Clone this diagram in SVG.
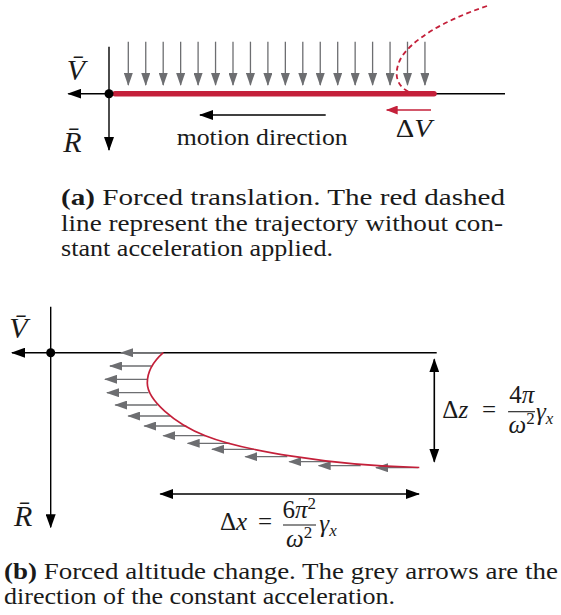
<svg xmlns="http://www.w3.org/2000/svg" width="561" height="615" viewBox="0 0 561 615" font-family="'Liberation Serif', serif">
<style>
text{font-family:"Liberation Serif",serif;fill:#1a1a1a}
.it{font-style:italic}
.b{font-weight:bold}
.ax{stroke:#000;stroke-width:1.4;fill:none}
.gr{stroke:#6d6e71;stroke-width:1.3;fill:none}
.rd{stroke:#c4203a;fill:none}
.dbl{stroke:#000;stroke-width:1.6;fill:none}
</style>
<defs>
<marker id="ab" viewBox="0 0 14 10" refX="13" refY="5" markerWidth="14" markerHeight="10" markerUnits="userSpaceOnUse" orient="auto-start-reverse"><path d="M0,0 L14,5 L0,10 z" fill="#000"/></marker>
<marker id="ag" viewBox="0 0 13 9" refX="12" refY="4.5" markerWidth="13" markerHeight="9" markerUnits="userSpaceOnUse" orient="auto"><path d="M0,0 L13,4.5 L0,9 z" fill="#6d6e71"/></marker>
<marker id="ar" viewBox="0 0 12 9" refX="11" refY="4.5" markerWidth="12" markerHeight="9" markerUnits="userSpaceOnUse" orient="auto"><path d="M0,0 L12,4.5 L0,9 z" fill="#c4203a"/></marker>
</defs>

<g id="panel-a">
  <g id="accel-arrows-a" class="gr" marker-end="url(#ag)">
    <line x1="128.3" y1="41.7" x2="128.3" y2="85"/>
    <line x1="145.75" y1="41.7" x2="145.75" y2="85"/>
    <line x1="163.2" y1="41.7" x2="163.2" y2="85"/>
    <line x1="180.65" y1="41.7" x2="180.65" y2="85"/>
    <line x1="198.1" y1="41.7" x2="198.1" y2="85"/>
    <line x1="215.55" y1="41.7" x2="215.55" y2="85"/>
    <line x1="233" y1="41.7" x2="233" y2="85"/>
    <line x1="250.45" y1="41.7" x2="250.45" y2="85"/>
    <line x1="267.9" y1="41.7" x2="267.9" y2="85"/>
    <line x1="285.35" y1="41.7" x2="285.35" y2="85"/>
    <line x1="302.8" y1="41.7" x2="302.8" y2="85"/>
    <line x1="320.25" y1="41.7" x2="320.25" y2="85"/>
    <line x1="337.7" y1="41.7" x2="337.7" y2="85"/>
    <line x1="355.15" y1="41.7" x2="355.15" y2="85"/>
    <line x1="372.6" y1="41.7" x2="372.6" y2="85"/>
    <line x1="390.05" y1="41.7" x2="390.05" y2="85"/>
    <line x1="407.5" y1="41.7" x2="407.5" y2="85"/>
    <line x1="424.95" y1="41.7" x2="424.95" y2="85"/>
  </g>
  <g id="axes-a">
    <line class="ax" x1="505" y1="93.7" x2="68.3" y2="93.7" marker-end="url(#ab)"/>
    <line class="ax" x1="109" y1="46.7" x2="109" y2="150" marker-end="url(#ab)"/>
  </g>
  <path id="trajectory-a" class="rd" d="M115,93.7 L434,93.7" stroke-width="5.5" stroke-linecap="round"/>
  <path id="free-trajectory-a" class="rd" d="M487,6 C445,20 410,40 400,60 C393,75 397,88 412,93" stroke-width="1.8" stroke-dasharray="5 3.5"/>
  <circle id="origin-a" cx="109" cy="93.7" r="4.5" fill="#000"/>
  <g id="connectors-a">
    <line x1="431" y1="110" x2="386.7" y2="110" class="rd" stroke-width="1.5" marker-end="url(#ar)"/>
    <line x1="325.7" y1="115" x2="200" y2="115" class="ax" marker-end="url(#ab)"/>
  </g>
  <g id="labels-a">
    <text x="66.7" y="80" font-size="30" class="it">V&#772;</text>
    <text x="63.3" y="151.7" font-size="30" class="it">R&#772;</text>
    <text x="395.7" y="136.7" font-size="25" textLength="36" lengthAdjust="spacingAndGlyphs">Δ<tspan class="it">V</tspan></text>
    <text x="176.7" y="145" font-size="23" textLength="171" lengthAdjust="spacingAndGlyphs">motion direction</text>
  </g>
</g>

<g id="caption-a" font-size="22.5">
  <text x="61" y="205" textLength="444" lengthAdjust="spacingAndGlyphs"><tspan class="b">(a)</tspan> Forced translation.  The red dashed</text>
  <text x="61" y="230.5" textLength="442" lengthAdjust="spacingAndGlyphs">line represent the trajectory without con-</text>
  <text x="61" y="256" textLength="272" lengthAdjust="spacingAndGlyphs">stant acceleration applied.</text>
</g>

<g id="panel-b">
  <g id="axes-b">
    <line class="ax" x1="436.7" y1="352.7" x2="12" y2="352.7" marker-end="url(#ab)"/>
    <line class="ax" x1="50.7" y1="306.7" x2="50.7" y2="527.3" marker-end="url(#ab)"/>
  </g>
  <g id="accel-arrows-b" class="gr" marker-end="url(#ag)">
    <line x1="163.3" y1="352.7" x2="121" y2="352.7"/>
    <line x1="151.7" y1="366" x2="110" y2="366"/>
    <line x1="147.5" y1="379.3" x2="105" y2="379.3"/>
    <line x1="148.5" y1="392.7" x2="107" y2="392.7"/>
    <line x1="157.3" y1="405" x2="115.3" y2="405"/>
    <line x1="170.3" y1="416" x2="128.3" y2="416"/>
    <line x1="186.3" y1="426" x2="144.3" y2="426"/>
    <line x1="205.3" y1="435.7" x2="163.3" y2="435.7"/>
    <line x1="229.7" y1="443.3" x2="187.7" y2="443.3"/>
    <line x1="254" y1="449.3" x2="212" y2="449.3"/>
    <line x1="287.3" y1="456.7" x2="245.3" y2="456.7"/>
    <line x1="331.3" y1="461.7" x2="289.3" y2="461.7"/>
    <line x1="360.7" y1="465.7" x2="318.7" y2="465.7"/>
    <line x1="418" y1="467.7" x2="376" y2="467.7"/>
  </g>
  <path id="trajectory-b" class="rd" stroke-width="1.7" d="M163.3,352.7 C155,360 147.3,370 147.3,383 C147.3,400 175,424 205.3,435.7 C240,449.5 330,466 419.3,467.5"/>
  <circle id="origin-b" cx="50.7" cy="352.7" r="4.5" fill="#000"/>
  <g id="connectors-b">
    <line class="dbl" x1="434.3" y1="359.3" x2="434.3" y2="461.7" marker-start="url(#ab)" marker-end="url(#ab)"/>
    <line class="dbl" x1="160.3" y1="494" x2="419" y2="494" marker-start="url(#ab)" marker-end="url(#ab)"/>
  </g>
  <g id="labels-b" font-size="25">
    <text x="9.3" y="338.3" font-size="30" class="it">V&#772;</text>
    <text x="14" y="526" font-size="30" class="it">R&#772;</text>
    <text x="442.3" y="418.3">Δ<tspan class="it">z</tspan></text>
    <text x="489" y="418.3" text-anchor="middle">=</text>
    <text x="521.7" y="403.3" text-anchor="middle">4<tspan class="it">π</tspan></text>
    <line x1="508" y1="411.7" x2="535" y2="411.7" stroke="#1a1a1a" stroke-width="1.1"/>
    <text x="521.7" y="433.3" text-anchor="middle"><tspan class="it">ω</tspan><tspan font-size="17" dy="-9">2</tspan></text>
    <text x="536" y="420"><tspan class="it">γ</tspan><tspan class="it" font-size="17" dy="4">x</tspan></text>
    <text x="220" y="530">Δ<tspan class="it">x</tspan></text>
    <text x="265" y="530" text-anchor="middle">=</text>
    <text x="299.2" y="517.7" text-anchor="middle">6<tspan class="it">π</tspan><tspan font-size="17" dy="-9">2</tspan></text>
    <line x1="283" y1="525" x2="316" y2="525" stroke="#1a1a1a" stroke-width="1.1"/>
    <text x="299.2" y="547" text-anchor="middle"><tspan class="it">ω</tspan><tspan font-size="17" dy="-9">2</tspan></text>
    <text x="319.3" y="532"><tspan class="it">γ</tspan><tspan class="it" font-size="17" dy="4">x</tspan></text>
  </g>
</g>

<g id="caption-b" font-size="22.5">
  <text x="4" y="578.5" textLength="554" lengthAdjust="spacingAndGlyphs"><tspan class="b">(b)</tspan> Forced altitude change. The grey arrows are the</text>
  <text x="4" y="603.5" textLength="391" lengthAdjust="spacingAndGlyphs">direction of the constant acceleration.</text>
</g>
</svg>
